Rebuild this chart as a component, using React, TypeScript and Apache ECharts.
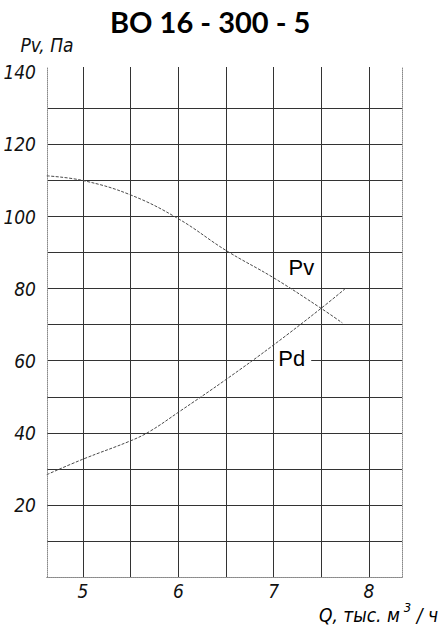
import React, { useEffect, useRef } from "react";
import * as echarts from "echarts";

const title = "ВО 16 - 300 - 5";
const yName = "Pv, Па";
const xTicks = [5, 5.5, 6, 6.5, 7, 7.5, 8];
const xLabels = [5, 6, 7, 8];
const yTicks = [10, 20, 30, 40, 50, 60, 70, 80, 90, 100, 110, 120, 130];
const yLabels = [20, 40, 60, 80, 100, 120, 140];
const pvData: [number, number][] = [
  [4.62, 111.3], [5.0, 110.0], [5.5, 106.0], [6.0, 99.4], [6.5, 90.6],
  [7.0, 83.0], [7.5, 74.5], [7.72, 70.5],
];
const pdData: [number, number][] = [
  [4.62, 28.4], [5.0, 32.7], [5.5, 37.8], [5.7, 40.4], [6.0, 45.7],
  [6.5, 54.8], [7.0, 64.4], [7.5, 74.6], [7.76, 80.2],
];
const pvLabelAt: [number, number] = [7.29, 85.8];
const pdLabelAt: [number, number] = [7.2, 60.6];

const gost = "'Liberation Sans Narrow', 'DejaVu Sans Condensed', 'Liberation Sans', sans-serif";

export default function App() {
  const ref = useRef<HTMLDivElement>(null);
  useEffect(() => {
    if (!ref.current) return;
    const chart = echarts.init(ref.current, undefined, { renderer: "svg" });
    const X_MIN = 4.622, X_MAX = 8.346, Y_MIN = 0, Y_MAX = 141.5;
    const border = { show: true, lineStyle: { color: "#888", width: 1, type: "dotted" as const } };
    const tickFont = { fontFamily: gost, fontStyle: "italic" as const, fontSize: 19, color: "#111" };
    chart.setOption({
      animation: false,
      backgroundColor: "#fff",
      title: {
        text: title,
        left: 105,
        top: 2,
        textStyle: { fontFamily: "Lato, 'Noto Sans', sans-serif", fontWeight: "bold", fontSize: 29, color: "#000" },
      },
      grid: { left: 47, right: 44, top: 67, bottom: 51 },
      xAxis: [
        {
          type: "value", min: X_MIN, max: X_MAX, position: "bottom",
          axisLine: border,
          axisTick: { show: false, customValues: xTicks },
          axisLabel: { ...tickFont, customValues: xLabels, margin: 4 },
          splitLine: { show: true, lineStyle: { color: "#333", width: 1 } },
        },
        {
          type: "value", min: X_MIN, max: X_MAX, position: "top",
          axisLine: border, axisTick: { show: false }, axisLabel: { show: false }, splitLine: { show: false },
        },
      ],
      yAxis: [
        {
          type: "value", min: Y_MIN, max: Y_MAX, position: "left",
          name: yName, nameLocation: "end", nameGap: 13,
          nameTextStyle: { ...tickFont, align: "center" },
          axisLine: border,
          axisTick: { show: false, customValues: yTicks },
          axisLabel: { ...tickFont, customValues: yLabels, margin: 11 },
          splitLine: { show: true, lineStyle: { color: "#333", width: 1 } },
        },
        {
          type: "value", min: Y_MIN, max: Y_MAX, position: "right",
          axisLine: border, axisTick: { show: false }, axisLabel: { show: false }, splitLine: { show: false },
        },
      ],
      series: [
        {
          name: "Pv", type: "line", data: pvData, smooth: 0.4, showSymbol: false,
          xAxisIndex: 0, yAxisIndex: 0,
          lineStyle: { color: "#4a4a4a", width: 1, type: [3, 1.5] },
          markPoint: {
            symbol: "circle", symbolSize: 0,
            label: { show: true, position: "inside", formatter: "Pv", fontFamily: "'Liberation Sans', Arial, sans-serif", fontSize: 22, color: "#000" },
            data: [{ coord: pvLabelAt }],
          },
        },
        {
          name: "Pd", type: "line", data: pdData, smooth: 0.4, showSymbol: false,
          xAxisIndex: 0, yAxisIndex: 0,
          lineStyle: { color: "#4a4a4a", width: 1, type: [3, 1.5] },
          markPoint: {
            symbol: "circle", symbolSize: 0,
            label: { show: true, position: "inside", formatter: "Pd", fontFamily: "'Liberation Sans', Arial, sans-serif", fontSize: 22, color: "#000", backgroundColor: "#fff", padding: [0, 6, 0, 4] },
            data: [{ coord: pdLabelAt }],
          },
        },
      ],
      graphic: [
        {
          type: "text", right: 8, bottom: 4,
          style: {
            text: "{a|Q, тыс. м}{s|3}{a| / ч}",
            rich: {
              a: { fontFamily: gost, fontStyle: "italic", fontSize: 19, color: "#111" },
              s: { fontFamily: gost, fontStyle: "italic", fontSize: 13, color: "#111", padding: [0, 0, 14, 4] },
            },
          },
        },
      ],
    });
    return () => chart.dispose();
  }, []);
  return <div ref={ref} style={{ position: "fixed", left: 0, top: 0, width: 446, height: 628 }} />;
}
